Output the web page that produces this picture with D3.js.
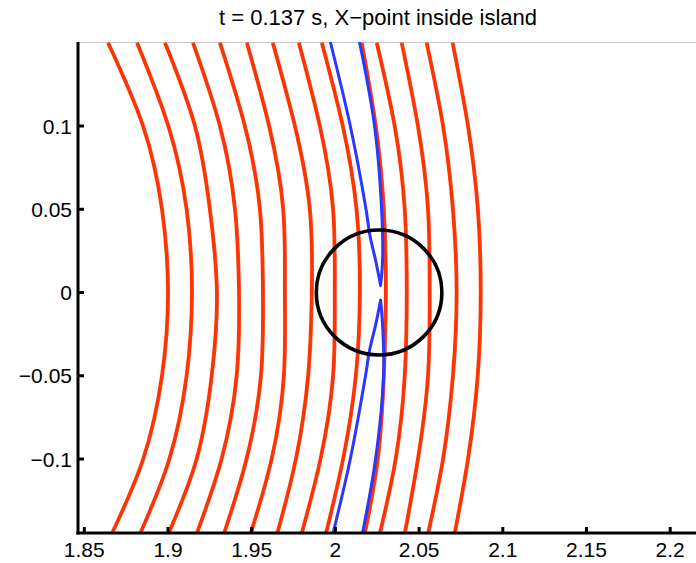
<!DOCTYPE html>
<html>
<head>
<meta charset="utf-8">
<script src="https://cdn.jsdelivr.net/npm/d3@7"></script>
<style>
  html, body { margin: 0; padding: 0; background: #ffffff; }
  svg { display: block; }
  text { font-family: "Liberation Sans", Arial, Helvetica, sans-serif; fill: #000; }
</style>
</head>
<body>
<svg id="chart" width="696" height="563"></svg>
<script>
// ---- data ----
const titleText = "t = 0.137 s, X\u2212point inside island";
const xTicks = [1.85, 1.9, 1.95, 2.0, 2.05, 2.1, 2.15, 2.2];
const xTickLabels = ["1.85", "1.9", "1.95", "2", "2.05", "2.1", "2.15", "2.2"];
const yTicks = [0.1, 0.05, 0, -0.05, -0.1];
const yTickLabels = ["0.1", "0.05", "0", "\u22120.05", "\u22120.1"];

// vertical positions (Z) at which each flux surface's R was read
const surfaceZ = [0.15, 0.1, 0.05, 0, -0.05, -0.1, -0.145];
// R of each flux surface at those Z
const surface01 = [1.8641, 1.8850, 1.8963, 1.8999, 1.8963, 1.8851, 1.8663];
const surface02 = [1.8814, 1.9001, 1.9110, 1.9142, 1.9110, 1.9007, 1.8832];
const surface03 = [1.8981, 1.9160, 1.9249, 1.9291, 1.9260, 1.9170, 1.9001];
const surface04 = [1.9148, 1.9309, 1.9399, 1.9423, 1.9409, 1.9319, 1.9170];
const surface05 = [1.9309, 1.9458, 1.9548, 1.9566, 1.9554, 1.9468, 1.9333];
const surface06 = [1.9470, 1.9603, 1.9687, 1.9697, 1.9691, 1.9618, 1.9492];
const surface07 = [1.9625, 1.9757, 1.9846, 1.9858, 1.9836, 1.9763, 1.9651];
const surface08 = [1.9781, 1.9906, 1.9985, 1.9995, 1.9985, 1.9910, 1.9797];
const surface09 = [1.9918, 2.0043, 2.0125, 2.0145, 2.0121, 2.0045, 1.9942];
const surface10 = [2.0156, 2.0240, 2.0288, 2.0300, 2.0288, 2.0252, 2.0174];
const surface11 = [2.0246, 2.0353, 2.0413, 2.0425, 2.0413, 2.0359, 2.0264];
const surface12 = [2.0395, 2.0492, 2.0552, 2.0562, 2.0552, 2.0492, 2.0413];
const surface13 = [2.0544, 2.0642, 2.0701, 2.0723, 2.0701, 2.0642, 2.0552];
const surface14 = [2.0699, 2.0791, 2.0850, 2.0867, 2.0849, 2.0791, 2.0711];
const surfaces = [surface01, surface02, surface03, surface04, surface05, surface06, surface07,
                  surface08, surface09, surface10, surface11, surface12, surface13, surface14];

// separatrix (blue) arms
const sepUpperLeftZ  = [0.15, 0.1, 0.05, 0.0344, 0.0194, 0.0044];
const sepUpperLeftR  = [1.9971, 2.0089, 2.0183, 2.0206, 2.0240, 2.0270];
const sepUpperRightZ = [0.15, 0.1, 0.05, 0.0194, 0.0044];
const sepUpperRightR = [2.0145, 2.0234, 2.0276, 2.0282, 2.0270];
const sepLowerLeftZ  = [-0.0046, -0.0196, -0.0347, -0.05, -0.1, -0.145];
const sepLowerLeftR  = [2.0270, 2.0240, 2.0204, 2.0180, 2.0089, 1.9985];
const sepLowerRightZ = [-0.0046, -0.0196, -0.05, -0.1, -0.145];
const sepLowerRightR = [2.0270, 2.0282, 2.0288, 2.0240, 2.0161];

// island circle
const islandCenter = [2.0261, 0];
const islandRadius = [0.0375];

// ---- layout ----
const svg = d3.select("#chart");
const plot = { left: 78, right: 700, top: 42, bottom: 533 };

const x = d3.scaleLinear().domain([1.85, 2.2]).range([84.3, 670.2]);
const y = d3.scaleLinear().domain([-0.1, 0.1]).range([459, 126]);

svg.append("defs").append("clipPath").attr("id", "clip")
  .append("rect")
  .attr("x", plot.left).attr("y", plot.top)
  .attr("width", plot.right - plot.left).attr("height", plot.bottom - plot.top);

// top border (thin gray)
svg.append("line")
  .attr("x1", plot.left).attr("x2", plot.right)
  .attr("y1", plot.top + 0.5).attr("y2", plot.top + 0.5)
  .attr("stroke", "#c8c8c8").attr("stroke-width", 1);

const g = svg.append("g").attr("clip-path", "url(#clip)");

const lineGen = d3.line().x(d => x(d[0])).y(d => y(d[1])).curve(d3.curveNatural);
const armGen = d3.line().x(d => x(d[0])).y(d => y(d[1])).curve(d3.curveCatmullRom);

// red flux surfaces (drawn as a bundle of strands)
surfaces.forEach(rs => {
  const pts = rs.map((r, i) => [r, surfaceZ[i]]);
  const d = lineGen(pts);
  g.append("path").attr("d", d)
    .attr("fill", "none").attr("stroke", "#ff3300").attr("stroke-width", 3.4);
  g.append("path").attr("d", d)
    .attr("transform", "translate(1.6,0)")
    .attr("fill", "none").attr("stroke", "#f03a14").attr("stroke-width", 1.1)
    .attr("stroke-opacity", 0.85);
});

// blue separatrix
[[sepUpperLeftR, sepUpperLeftZ], [sepUpperRightR, sepUpperRightZ],
 [sepLowerLeftR, sepLowerLeftZ], [sepLowerRightR, sepLowerRightZ]].forEach(([rs, zs]) => {
  const pts = rs.map((r, i) => [r, zs[i]]);
  g.append("path").attr("d", armGen(pts))
    .attr("fill", "none").attr("stroke", "#2b36ff").attr("stroke-width", 3)
    .attr("stroke-linejoin", "round").attr("stroke-linecap", "round");
});

// island circle
g.append("ellipse")
  .attr("cx", x(islandCenter[0])).attr("cy", y(islandCenter[1]))
  .attr("rx", x(islandCenter[0] + islandRadius[0]) - x(islandCenter[0]))
  .attr("ry", y(islandCenter[1] - islandRadius[0]) - y(islandCenter[1]))
  .attr("fill", "none").attr("stroke", "#000").attr("stroke-width", 3.6);

// axes spines
svg.append("line")
  .attr("x1", plot.left).attr("x2", plot.left)
  .attr("y1", plot.top).attr("y2", plot.bottom + 1.5)
  .attr("stroke", "#000").attr("stroke-width", 3);
svg.append("line")
  .attr("x1", plot.left - 1.5).attr("x2", plot.right)
  .attr("y1", plot.bottom).attr("y2", plot.bottom)
  .attr("stroke", "#000").attr("stroke-width", 3);

// y ticks (inward)
yTicks.forEach((t, i) => {
  svg.append("line")
    .attr("x1", plot.left).attr("x2", plot.left + 6)
    .attr("y1", y(t)).attr("y2", y(t))
    .attr("stroke", "#000").attr("stroke-width", 3);
  svg.append("text")
    .attr("x", plot.left - 6).attr("y", y(t))
    .attr("dy", "0.36em")
    .attr("text-anchor", "end")
    .attr("font-size", 21)
    .text(yTickLabels[i]);
});

// x ticks (inward)
xTicks.forEach((t, i) => {
  svg.append("line")
    .attr("x1", x(t)).attr("x2", x(t))
    .attr("y1", plot.bottom).attr("y2", plot.bottom - 6)
    .attr("stroke", "#000").attr("stroke-width", 3);
  svg.append("text")
    .attr("x", x(t)).attr("y", plot.bottom + 24)
    .attr("text-anchor", "middle")
    .attr("font-size", 21)
    .text(xTickLabels[i]);
});

// title
svg.append("text")
  .attr("x", 378).attr("y", 25)
  .attr("text-anchor", "middle")
  .attr("font-size", 22)
  .text(titleText);
</script>
</body>
</html>
